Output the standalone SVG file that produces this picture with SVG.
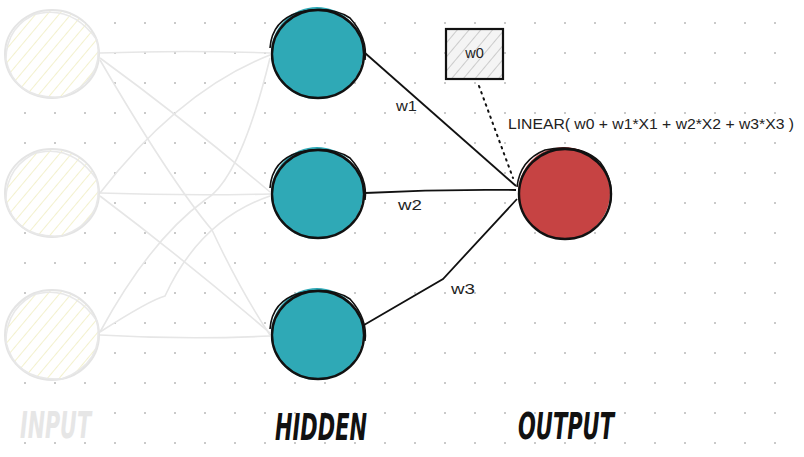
<svg xmlns="http://www.w3.org/2000/svg" width="804" height="457" viewBox="0 0 804 457">
<style>
.in-c{fill:url(#hatchY);stroke:#e4e4e4;stroke-width:2}
.in-s{fill:none;stroke:#e8e8e8;stroke-width:1.5}
.hid{fill:#2fa9b6}
.out{fill:#c64343}
.ink{fill:none;stroke:#111;stroke-width:2.4}
.ink2{fill:none;stroke:#111;stroke-width:1.6}
.gl{fill:none;stroke:#e6e6e6;stroke-width:1.6}
.bl{fill:none;stroke:#111;stroke-width:1.8}
.lbl{font-family:"Liberation Sans","DejaVu Sans",sans-serif;font-size:14.5px;fill:#222}
.title{font-family:"DejaVu Sans","Liberation Sans",sans-serif;font-weight:bold;font-style:italic;font-size:38px}
</style>
<defs>
<pattern id="dots" width="30" height="30" patternUnits="userSpaceOnUse" x="10" y="8">
<circle cx="15" cy="15" r="1" fill="#b8b8b8"/>
</pattern>
<pattern id="hatchY" width="9" height="9" patternUnits="userSpaceOnUse" patternTransform="rotate(40)">
<rect width="9" height="9" fill="#ffffff"/>
<line x1="0" y1="0" x2="0" y2="9" stroke="#f0eec0" stroke-width="1.6"/>
</pattern>
<pattern id="hatchG" width="9" height="9" patternUnits="userSpaceOnUse" patternTransform="rotate(40)">
<rect width="9" height="9" fill="#f4f4f4"/>
<line x1="0" y1="0" x2="0" y2="9" stroke="#bdbdbd" stroke-width="1.5"/>
</pattern>
</defs>
<rect width="804" height="457" fill="#ffffff"/>
<rect width="804" height="457" fill="url(#dots)"/>

<g id="connectors">
<path class="gl" d="M100,53 Q185,50 270,53"/>
<path class="gl" d="M100,58 Q185,120 270,192"/>
<path class="gl" d="M100,60 Q170,180 212,230 Q240,290 270,335"/>
<path class="gl" d="M100,193 Q180,90 270,55"/>
<path class="gl" d="M100,193 Q185,196 270,194"/>
<path class="gl" d="M100,196 Q185,260 270,333"/>
<path class="gl" d="M100,332 Q150,240 205,200 Q240,180 270,58"/>
<path class="gl" d="M100,332 Q150,300 165,296 Q200,220 270,196"/>
<path class="gl" d="M100,335 Q185,340 270,336"/>
<path class="bl" d="M365,53 L516,186"/>
<path class="bl" d="M365,193 Q440,189 516,190"/>
<path class="bl" d="M364,325 L443,279 L517,199"/>
<path d="M479,86 L513,178" fill="none" stroke="#111" stroke-width="2" stroke-dasharray="1.5 5" stroke-linecap="round"/>
<text class="lbl" x="396" y="111" textLength="21" lengthAdjust="spacingAndGlyphs">w1</text>
<text class="lbl" x="398" y="210" textLength="24" lengthAdjust="spacingAndGlyphs">w2</text>
<text class="lbl" x="451" y="294" textLength="24" lengthAdjust="spacingAndGlyphs">w3</text>
</g>

<g id="input1">
<ellipse class="in-c" cx="52" cy="54" rx="47" ry="44"/>
<path class="in-s" d="M30,16 Q70,2 97,40 Q105,80 62,97 Q15,100 6,60 Q6,25 40,12"/>
</g>
<g id="input2">
<ellipse class="in-c" cx="52" cy="193" rx="47" ry="44"/>
<path class="in-s" d="M30,155 Q70,141 97,180 Q105,220 62,236 Q15,239 6,200 Q6,165 40,151"/>
</g>
<g id="input3">
<ellipse class="in-c" cx="52" cy="335" rx="47" ry="45"/>
<path class="in-s" d="M30,296 Q70,282 97,321 Q105,362 62,379 Q15,381 6,342 Q6,306 40,292"/>
</g>

<g id="hidden1">
<circle class="hid" cx="317" cy="53" r="46"/>
<ellipse class="ink" cx="318" cy="54" rx="46" ry="44"/>
<path class="ink2" d="M270,48 Q272,20 300,12 Q330,5 350,18 Q368,38 365,60"/>
</g>
<g id="hidden2">
<circle class="hid" cx="317" cy="193" r="46"/>
<ellipse class="ink" cx="318" cy="194" rx="46" ry="44"/>
<path class="ink2" d="M270,188 Q272,160 300,152 Q330,145 350,158 Q368,178 365,200"/>
</g>
<g id="hidden3">
<circle class="hid" cx="317" cy="334" r="46"/>
<ellipse class="ink" cx="318" cy="335" rx="46" ry="44"/>
<path class="ink2" d="M270,329 Q272,301 300,293 Q330,286 350,299 Q368,319 365,341"/>
</g>

<g id="w0">
<rect x="446" y="29" width="57" height="50" fill="url(#hatchG)" stroke="#111" stroke-width="2.2"/>
<text class="lbl" x="474.5" y="58" text-anchor="middle">w0</text>
</g>

<g id="output">
<circle class="out" cx="564" cy="193" r="46"/>
<ellipse class="ink" cx="565" cy="194" rx="46" ry="45"/>
<path class="ink2" d="M517,187 Q520,160 545,150 Q580,143 600,162 Q615,182 610,205"/>
<text class="lbl" x="508" y="129" textLength="286" lengthAdjust="spacingAndGlyphs">LINEAR( w0 + w1*X1 + w2*X2 + w3*X3 )</text>
</g>

<g id="labels">
<text class="title" x="20" y="438" fill="#e6e6e6" textLength="71" lengthAdjust="spacingAndGlyphs">INPUT</text>
<text class="title" x="275" y="440" fill="#111" textLength="92" lengthAdjust="spacingAndGlyphs">HIDDEN</text>
<text class="title" x="518" y="439" fill="#111" textLength="96" lengthAdjust="spacingAndGlyphs">OUTPUT</text>
</g>
</svg>
